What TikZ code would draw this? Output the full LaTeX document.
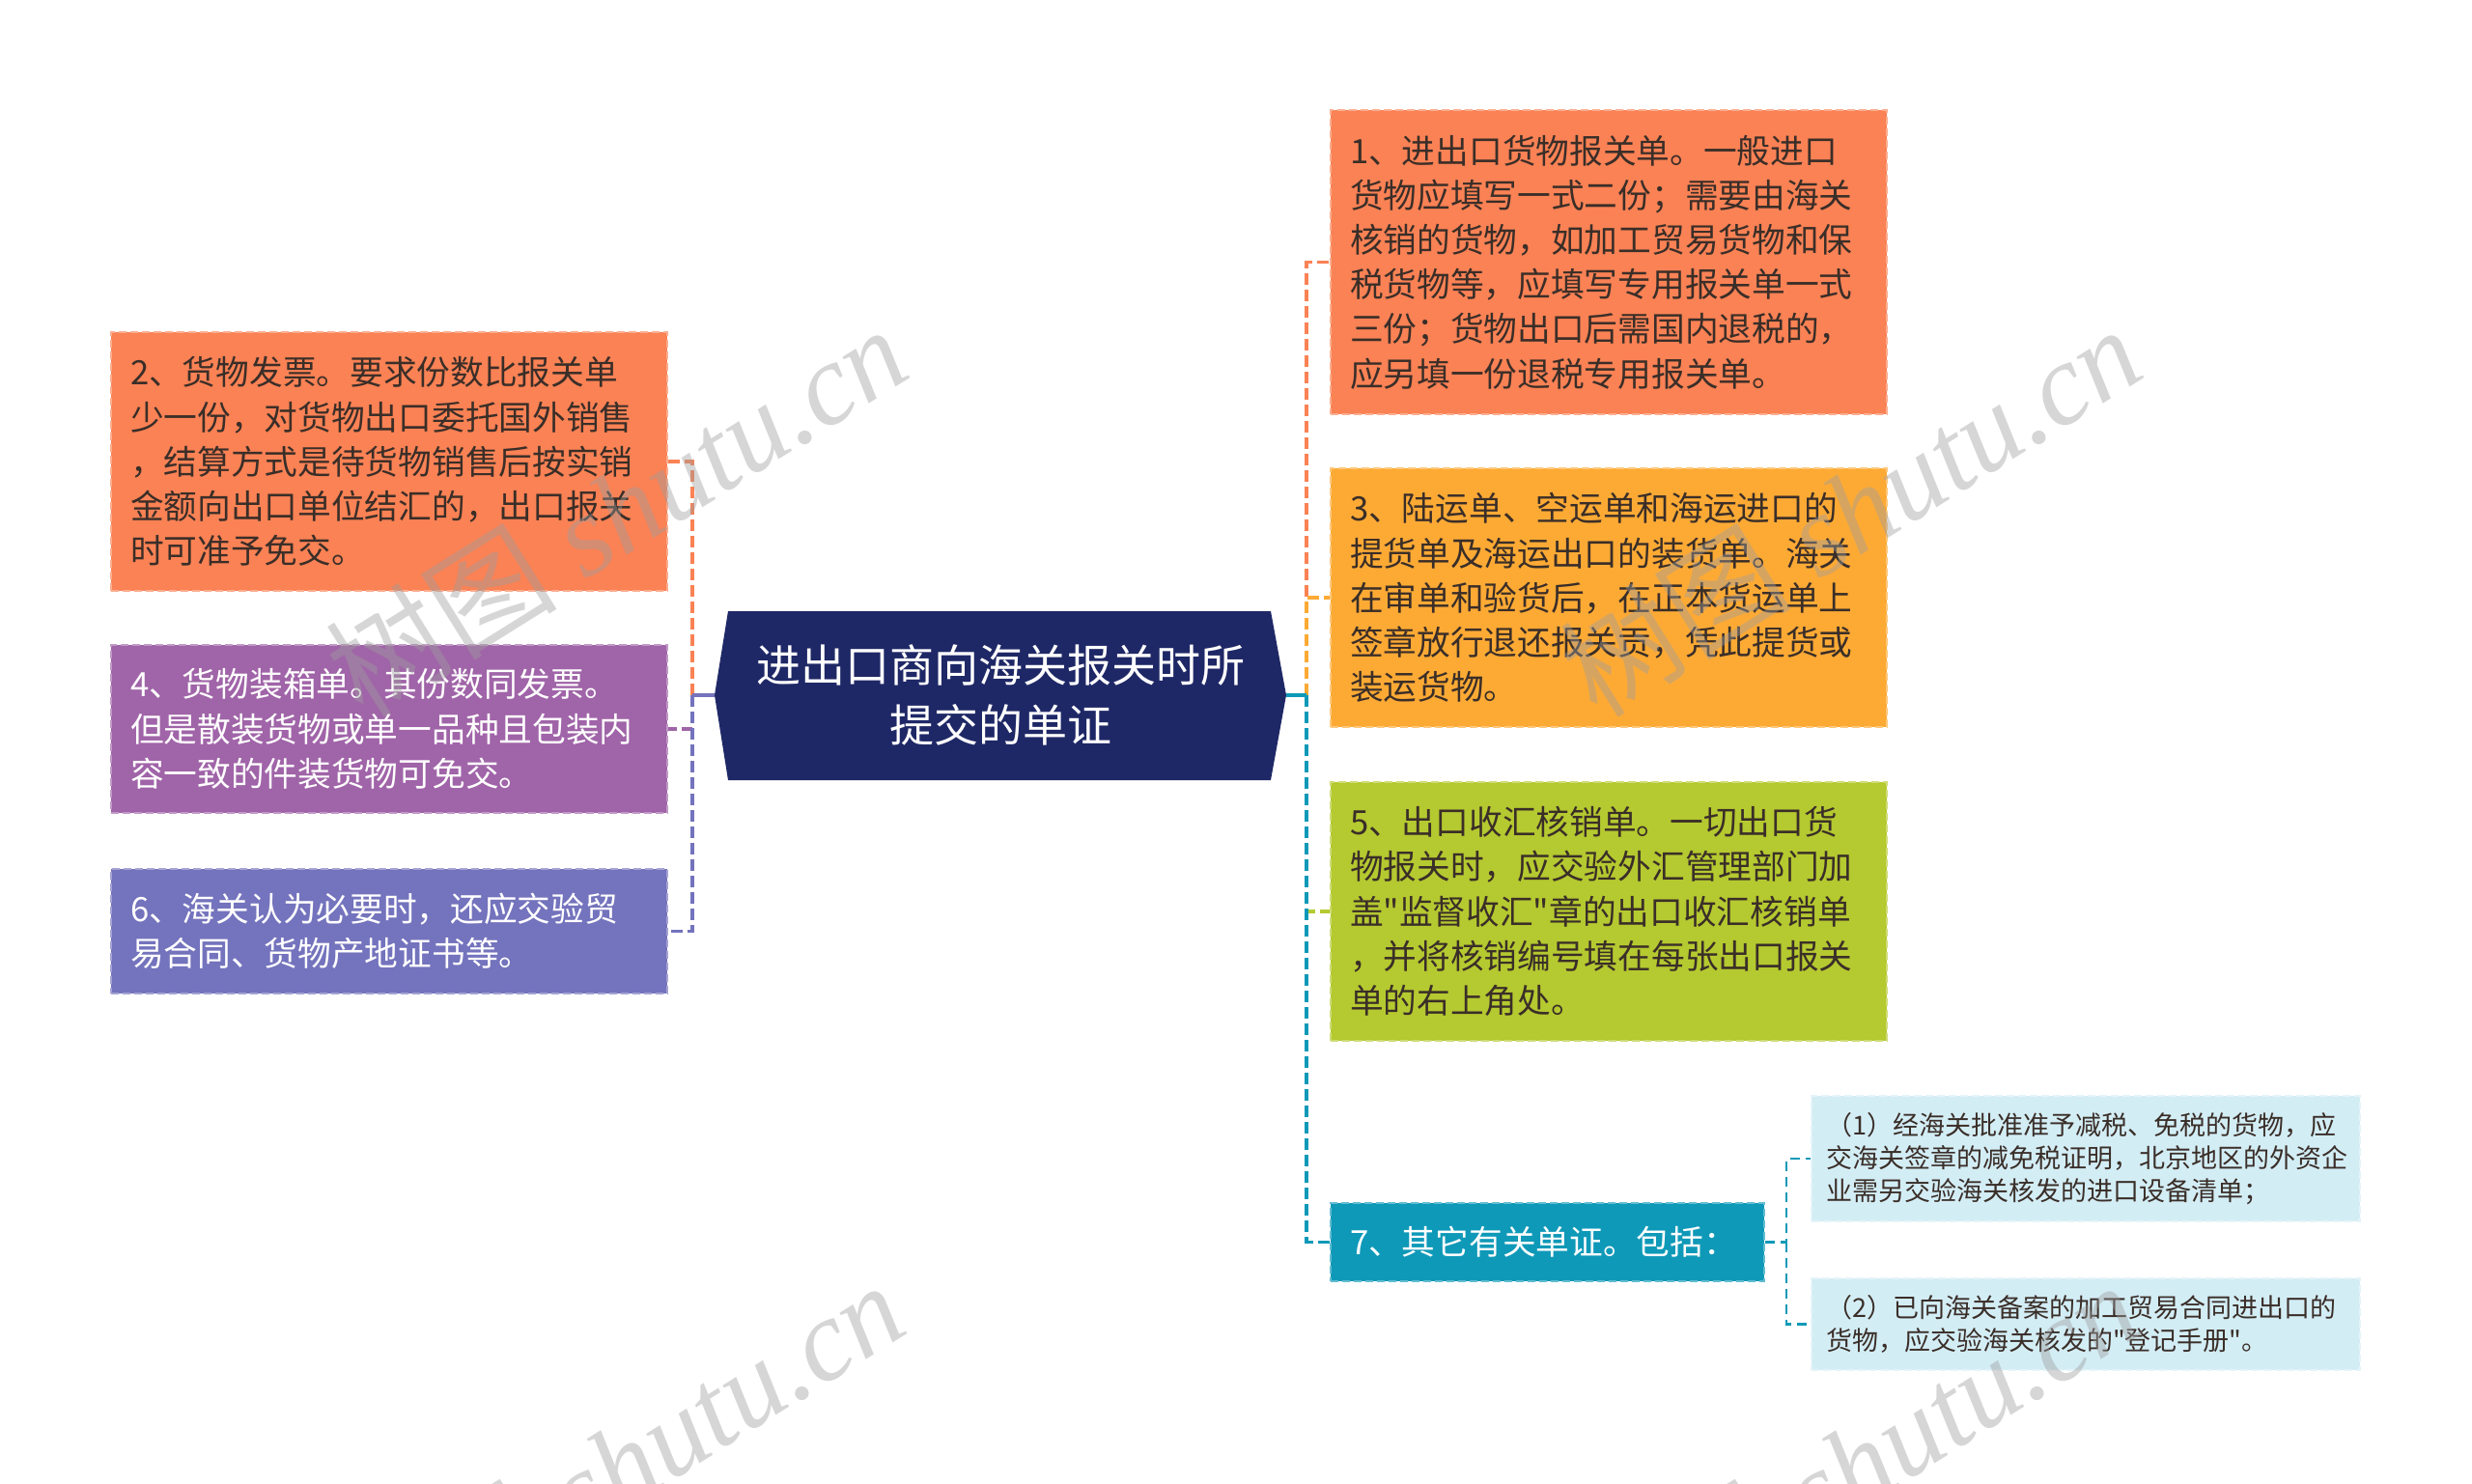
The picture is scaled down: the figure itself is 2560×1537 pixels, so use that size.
\documentclass[tikz,border=0pt]{standalone}
\usepackage{fontspec}
\setmainfont{Noto Sans CJK SC}[Ligatures=TeXOff]
\newfontfamily\wmlatin{Liberation Serif}[Ligatures=TeXOff]
\newfontfamily\wmcjk{Noto Sans CJK SC}
\usetikzlibrary{calc}

\definecolor{coral}{HTML}{FA8255}
\definecolor{amber}{HTML}{FDAA35}
\definecolor{lime}{HTML}{B5C930}
\definecolor{plum}{HTML}{A064A8}
\definecolor{iris}{HTML}{7473BD}
\definecolor{tealc}{HTML}{0F99B8}
\definecolor{ice}{HTML}{D3EDF5}
\definecolor{navy}{HTML}{1F2866}
\definecolor{ink}{HTML}{3A2E28}

\tikzset{
  card/.style={rectangle, fill=#1, draw=#1!65!white, dash pattern=on 4pt off 2pt,
    line width=1pt, inner xsep=10pt, inner ysep=0pt, minimum width=288pt,
    text width=268pt, align=left, font=\fontsize{17.35pt}{23.1pt}\selectfont},
  darktext/.style={text=ink},
  lighttext/.style={text=white},
  smallcard/.style={rectangle, fill=ice, draw=ice!60!white, dash pattern=on 4pt off 2pt,
    line width=1pt, inner xsep=7.5pt, inner ysep=0pt, minimum width=284pt,
    text width=269pt, align=left, text=ink, font=\fontsize{13.5pt}{17.1pt}\selectfont},
  link/.style={line width=1.6pt, dash pattern=on 6pt off 2.5pt},
  sublink/.style={line width=1.2pt, dash pattern=on 5pt off 3pt},
  solidlink/.style={line width=1.6pt},
  wm/.style={text=black!38, text opacity=0.42, inner sep=0pt,
    font=\wmlatin\itshape\fontsize{60pt}{60pt}\selectfont},
}

\begin{document}
\begin{tikzpicture}[x=0.5pt,y=-0.5pt]
\useasboundingbox (0,0) rectangle (2560,1537);
\clip (0,0) rectangle (2560,1537);
\fill[white] (0,0) rectangle (2560,1537);

% central node
\fill[navy] (754,633) -- (1316,633) -- (1332,720) -- (1316,808) -- (754,808) -- (740,720) -- cycle;
\node[text=white, align=center, inner sep=0pt, font=\fontsize{23pt}{31pt}\selectfont] (c) at (1036,720)
  {进出口商向海关报关时所\\提交的单证};
\coordinate (cR) at (1332,720);
\coordinate (cL) at (740,720);
\coordinate (eR) at (1353,720);
\coordinate (eL) at (717,720);

% right cards
\node[card=coral, darktext, minimum height=157.5pt] (n1) at (1666,271.5)
  {1、进出口货物报关单。一般进口\\货物应填写一式二份；需要由海关\\核销的货物，如加工贸易货物和保\\税货物等，应填写专用报关单一式\\三份；货物出口后需国内退税的，\\应另填一份退税专用报关单。};
\node[card=amber, darktext, minimum height=134pt] (n3) at (1666,619)
  {3、陆运单、空运单和海运进口的\\提货单及海运出口的装货单。海关\\在审单和验货后，在正本货运单上\\签章放行退还报关贡，凭此提货或\\装运货物。};
\node[card=lime, darktext, minimum height=134pt] (n5) at (1666,944)
  {5、出口收汇核销单。一切出口货\\物报关时，应交验外汇管理部门加\\盖"监督收汇"章的出口收汇核销单\\，并将核销编号填在每张出口报关\\单的右上角处。};
\node[card=tealc, lighttext, minimum height=40.5pt, minimum width=224.5pt, text width=204.5pt] (n7) at (1602.5,1286.5)
  {7、其它有关单证。包括：};

% sub cards of 7
\node[smallcard, minimum height=65pt] (n7a) at (2160,1200)
  {（1）经海关批准准予减税、免税的货物，应\\交海关签章的减免税证明，北京地区的外资企\\业需另交验海关核发的进口设备清单；};
\node[smallcard, minimum height=47.5pt] (n7b) at (2160,1371.5)
  {（2）已向海关备案的加工贸易合同进出口的\\货物，应交验海关核发的"登记手册"。};

% left cards
\node[card=coral, darktext, minimum height=134pt] (n2) at (403,478)
  {2、货物发票。要求份数比报关单\\少一份，对货物出口委托国外销售\\，结算方式是待货物销售后按实销\\金额向出口单位结汇的，出口报关\\时可准予免交。};
\node[card=plum, lighttext, minimum height=87pt] (n4) at (403,755)
  {4、货物装箱单。其份数同发票。\\但是散装货物或单一品种且包装内\\容一致的件装货物可免交。};
\node[card=iris, lighttext, minimum height=64.5pt] (n6) at (403,964.5)
  {6、海关认为必要时，还应交验贸\\易合同、货物产地证书等。};

% connectors right
\draw[link, coral] (eR) |- (n1.west);
\draw[link, amber] (eR) |- (n3.west);
\draw[link, lime] (eR) |- (n5.west);
\draw[link, tealc] (eR) |- (n7.west);
\draw[solidlink, tealc] (cR) -- (eR);

% connectors left
\draw[link, coral] (eL) |- (n2.east);
\draw[link, plum] (eL) |- (n4.east);
\draw[link, iris] (eL) |- (n6.east);
\draw[solidlink, iris] (cL) -- (eL);

% connectors of 7
\coordinate (e7) at (1850,1286.5);
\draw[sublink, tealc] (n7.east) -- (e7) |- (n7a.west);
\draw[sublink, tealc] (e7) |- (n7b.west);

% watermarks
\node[wm, anchor=base east, rotate=32] (wm1) at (948,388) {{\wmcjk\upshape 树图} shutu.cn};
\node[wm, anchor=base east, rotate=32] (wm2) at (2226,388) {{\wmcjk\upshape 树图} shutu.cn};
\node[wm, anchor=base east, rotate=32] (wm3) at (945,1378) {{\wmcjk\upshape 树图} shutu.cn};
\node[wm, anchor=base east, rotate=32] (wm4) at (2224,1378) {{\wmcjk\upshape 树图} shutu.cn};
\end{tikzpicture}
\end{document}
